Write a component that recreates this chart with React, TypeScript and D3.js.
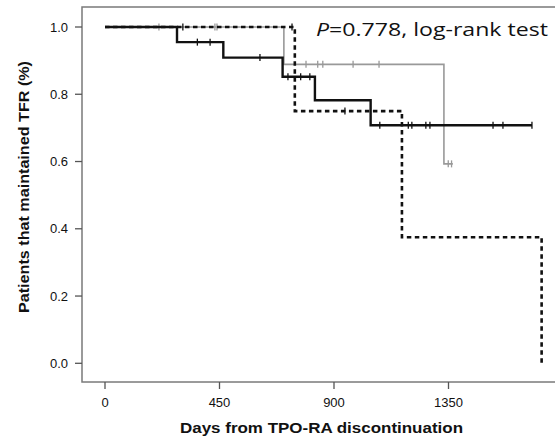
import React from 'react';
import * as d3 from 'd3';

// Kaplan-Meier steps
const solidTimes = [0, 283, 465, 698, 825, 1044, 1678];
const solidSurv = [1, 0.955, 0.909, 0.852, 0.782, 0.708, 0.708];
const solidCensor = [363, 413, 609, 719, 769, 805, 1080, 1192, 1206, 1261, 1277, 1525, 1564, 1678];

const grayTimes = [0, 703, 1332, 1367];
const graySurv = [1, 0.889, 0.593, 0.593];
const grayCensor = [212, 432, 440, 790, 836, 856, 975, 1077, 1349, 1362];

const dashTimes = [0, 746, 1167, 1716];
const dashSurv = [1, 0.75, 0.375, 0];
const dashCensor = [306, 735, 943];

const xTicks = [0, 450, 900, 1350];
const yTicks = [0, 0.2, 0.4, 0.6, 0.8, 1.0];

const W = 555;
const H = 441;
const box = { left: 82, top: 7, right: 556, bottom: 382 };

const x = d3.scaleLinear().domain([0, 1350]).range([105, 448.5]);
const y = d3.scaleLinear().domain([0, 1]).range([363.3, 27]);

const stepLine = d3
  .line<[number, number]>()
  .x((d) => x(d[0]))
  .y((d) => y(d[1]))
  .curve(d3.curveStepAfter);

// value of the curve at time t (for placing censor marks)
function survAt(times: number[], surv: number[], t: number) {
  let v = surv[0];
  for (let i = 0; i < times.length; i++) if (times[i] <= t) v = surv[i];
  return v;
}

function Curve({ times, surv, censor, color, width, dash }: any) {
  const pts = times.map((t: number, i: number) => [t, surv[i]] as [number, number]);
  return (
    <g>
      <path d={stepLine(pts) || ''} fill="none" stroke={color} strokeWidth={width} strokeDasharray={dash} />
      {censor.map((t: number, i: number) => {
        const cx = x(t);
        const cy = y(survAt(times, surv, t));
        return (
          <line key={i} x1={cx} x2={cx} y1={cy - 3.5} y2={cy + 3.5} stroke={color} strokeWidth={1.3} />
        );
      })}
    </g>
  );
}

export default function App() {
  const font = '"Liberation Sans", Arial, sans-serif';
  return (
    <svg width={W} height={H} style={{ position: 'absolute', left: 0, top: 0 }}>
      <rect width={W} height={H} fill="#fff" />
      <rect
        x={box.left}
        y={box.top}
        width={box.right - box.left}
        height={box.bottom - box.top}
        fill="none"
        stroke="#7a7a7a"
        strokeWidth={1.5}
      />
      {yTicks.map((v) => (
        <g key={v}>
          <line x1={75} x2={box.left} y1={y(v)} y2={y(v)} stroke="#555" strokeWidth={1.3} />
          <text x={68} y={y(v)} dy="0.35em" textAnchor="end" fontFamily={font} fontSize={13} fill="#111">
            {v.toFixed(1)}
          </text>
        </g>
      ))}
      {xTicks.map((v) => (
        <g key={v}>
          <line x1={x(v)} x2={x(v)} y1={box.bottom} y2={box.bottom + 7} stroke="#555" strokeWidth={1.3} />
          <text x={x(v)} y={407} textAnchor="middle" fontFamily={font} fontSize={13} fill="#111">
            {v}
          </text>
        </g>
      ))}
      <text
        x={180}
        y={433}
        textLength={283}
        lengthAdjust="spacingAndGlyphs"
        fontFamily={font}
        fontSize={15}
        fontWeight="bold"
        fill="#111"
      >
        Days from TPO-RA discontinuation
      </text>
      <text
        transform="translate(29,313) rotate(-90)"
        textLength={252}
        lengthAdjust="spacingAndGlyphs"
        fontFamily={font}
        fontSize={15}
        fontWeight="bold"
        fill="#111"
      >
        Patients that maintained TFR (%)
      </text>

      <Curve times={grayTimes} surv={graySurv} censor={grayCensor} color="#999" width={1.6} />
      <Curve times={solidTimes} surv={solidSurv} censor={solidCensor} color="#111" width={2.4} />
      <Curve times={dashTimes} surv={dashSurv} censor={dashCensor} color="#111" width={2.6} dash="4.5,3.5" />

      <text
        x={316}
        y={36}
        textLength={232}
        lengthAdjust="spacingAndGlyphs"
        fontFamily='"Open Sans", sans-serif'
        fontSize={19}
        fill="#111"
      >
        <tspan fontStyle="italic">P</tspan>=0.778, log-rank test
      </text>
    </svg>
  );
}
